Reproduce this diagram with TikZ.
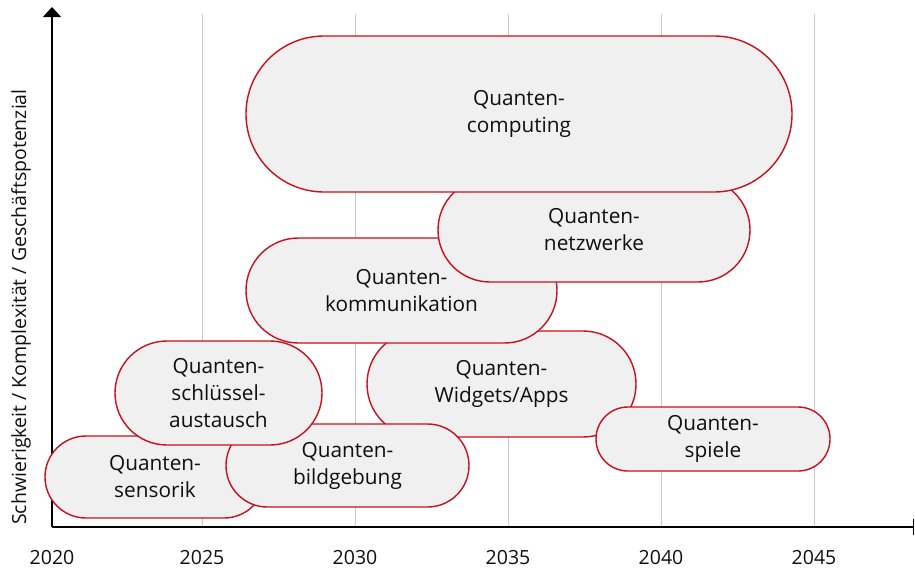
\documentclass[tikz,border=0pt]{standalone}
\usepackage{fontspec}
\setmainfont{Open Sans}
\usetikzlibrary{arrows.meta}
\definecolor{pillred}{RGB}{200,16,30}
\definecolor{pillfill}{RGB}{240,240,240}
\definecolor{gridgray}{RGB}{200,200,200}
\definecolor{txt}{RGB}{15,15,15}
\begin{document}
\begin{tikzpicture}[x=1pt,y=-1pt,
  pill/.style={draw=pillred, fill=pillfill, line width=1.4pt, align=center,
    text=txt, inner sep=0pt, font=\fontsize{20.8}{27}\selectfont},
  gridline/.style={draw=gridgray, line width=1pt},
  axis/.style={draw=black, line width=1.5pt},
  ticklabel/.style={text=txt, font=\fontsize{19.5}{22}\selectfont},
  axislabel/.style={text=txt, font=\fontsize{19.5}{22}\selectfont}]
\useasboundingbox (0,0) rectangle (915,570);

% vertical grid lines, one per five years
\foreach \gx in {202,355,508,661,814}
  \draw[gridline] (\gx,14) -- (\gx,527);

% axes
\coordinate (origin) at (52,527);
\coordinate (ytop) at (52,7);
\coordinate (xend) at (914,527);
\draw[axis, -{Triangle[length=10pt,width=18pt]}] (origin) -- (ytop);
\draw[axis, -{Bar[width=16pt]}] (origin) -- (xend);

% year labels
\foreach \gx/\yr in {52/2020,202/2025,355/2030,508/2035,661/2040,814/2045}
  \node[ticklabel] (yr\yr) at (\gx,558) {\yr};

\node[axislabel, rotate=90] (ylabel) at (21,307)
  {Schwierigkeit / Komplexität / Geschäftspotenzial};

% fields of application, back to front
\node[pill, minimum width=269pt, minimum height=106pt, rounded corners=52.9pt]
  (widgets) at (501.5,384) {Quanten-\\Widgets/Apps};
\node[pill, minimum width=311pt, minimum height=105pt, rounded corners=52.4pt]
  (komm) at (401.5,290.5) {Quanten-\\kommunikation};
\node[pill, minimum width=312pt, minimum height=104pt, rounded corners=51.9pt]
  (netz) at (594,230) {Quanten-\\netzwerke};
\node[pill, minimum width=546pt, minimum height=156pt, rounded corners=77.9pt]
  (comp) at (519,114) {Quanten-\\computing};
\node[pill, minimum width=234pt, minimum height=64pt, rounded corners=31.9pt]
  (spiele) at (713,439) {Quanten-\\spiele};
\node[pill, minimum width=220pt, minimum height=82pt, rounded corners=40.9pt]
  (sensorik) at (155,477) {Quanten-\\sensorik};
\node[pill, minimum width=243pt, minimum height=83pt, rounded corners=41.4pt]
  (bild) at (347.5,465.5) {Quanten-\\bildgebung};
\node[pill, minimum width=207pt, minimum height=104pt, rounded corners=51.9pt]
  (schluessel) at (218.5,393) {Quanten-\\schlüssel-\\austausch};
\end{tikzpicture}
\end{document}
